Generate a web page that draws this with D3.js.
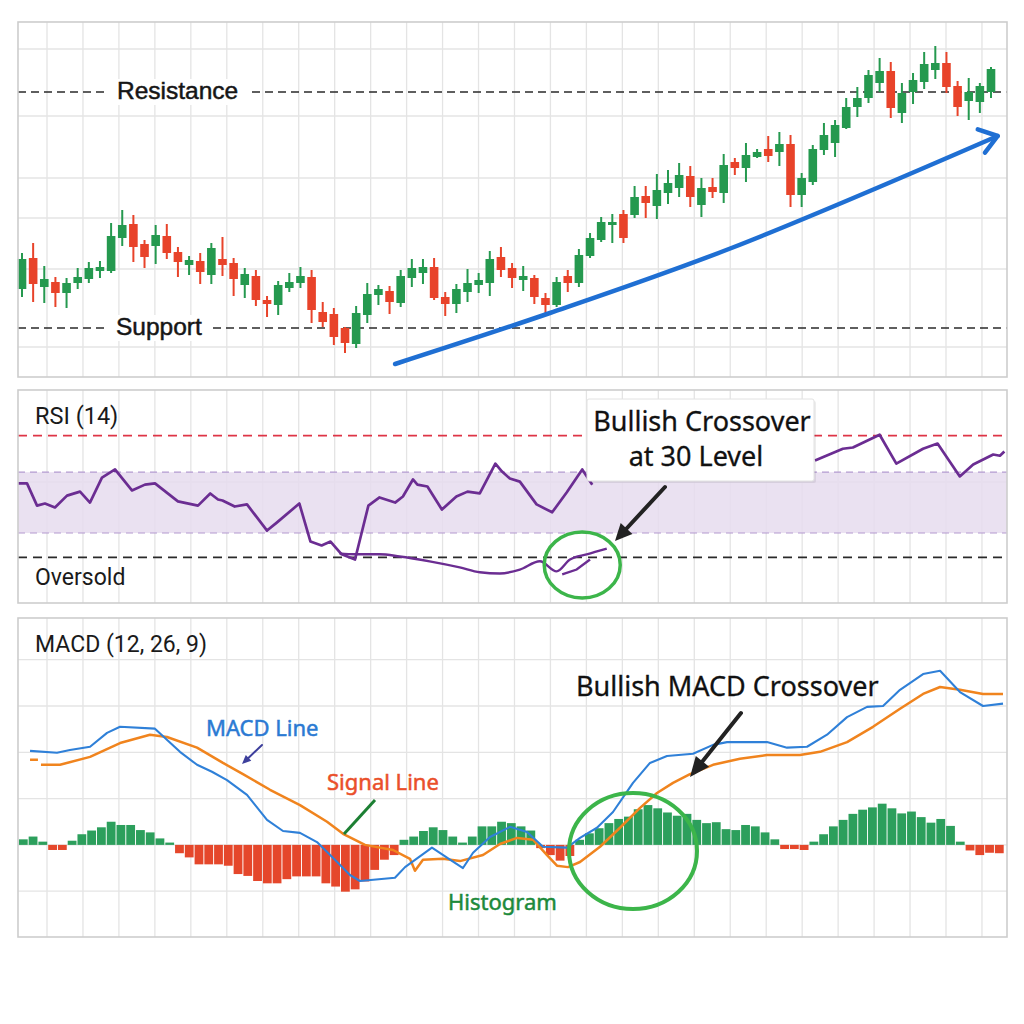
<!DOCTYPE html>
<html><head><meta charset="utf-8">
<script src="https://cdn.jsdelivr.net/npm/d3@7"></script>
<style>body{margin:0;background:#fff}svg{display:block}</style>
</head><body>
<svg id="c" width="1024" height="1024"></svg>
<script>
// ---------------- DATA ----------------
// Price candles (arbitrary price units)
const opens  = [111,142,113,118,107,117,121,129,129,162,176,156,154,164,148,135,139,125,141,137,115,124,100,95,112,117,123,88,86,72,56,85,105,109,97,122,127,133,103,96,108,115,117,143,132,120,122,102,95,124,117,144,160,175,186,185,204,194,207,212,224,195,213,207,238,232,243,251,248,256,205,218,250,257,272,293,302,317,329,287,308,318,330,337,314,299,298,308];
const highs  = [147,157,134,123,122,132,138,139,177,190,185,160,175,176,153,144,147,157,163,142,132,130,104,119,127,133,130,98,92,73,94,117,115,114,130,141,141,142,108,116,131,127,149,153,137,134,125,107,123,130,151,167,183,186,190,214,214,226,230,237,234,222,222,246,242,257,251,264,268,265,227,255,277,280,302,313,330,342,338,317,327,348,354,348,319,322,317,333];
const lows   = [103,98,97,93,92,111,117,122,127,154,138,132,136,141,123,125,116,116,124,104,102,94,83,85,108,112,77,73,55,47,52,77,95,86,93,113,116,100,84,87,98,107,104,123,112,109,96,86,93,108,113,142,158,157,157,182,182,181,196,203,193,183,202,197,225,218,242,238,234,193,193,215,245,243,271,283,297,308,282,277,296,311,321,307,284,280,287,302];
const closes = [141,116,121,107,117,123,132,133,164,175,153,143,165,147,138,140,128,152,135,121,126,100,96,115,118,124,90,78,63,57,87,106,111,98,124,132,133,102,96,111,117,120,141,130,122,124,103,95,118,117,145,162,178,178,162,203,197,210,217,225,203,212,208,235,232,245,248,244,256,205,222,251,265,275,293,302,325,329,292,307,320,336,337,313,293,308,314,331];
const resistanceLevel = 308;
const supportLevel = 72;
const priceGrid = [351,284,222,182,131,53];
// trend line (day, price)
const trendDay   = [33.5,47.4,63.7,87.6];
const trendPrice = [36,87,152,264];

// RSI (14)
const rsiDay   = [-0.36,0.45,1.35,2.06,2.96,4.04,5.21,6.10,7.18,8.35,9.87,11.04,11.94,14.0,15.8,16.9,17.6,18.0,19.1,20.2,22.0,22.9,24.9,25.9,26.9,27.7,28.7,29.9,31.1,32.1,33.5,34.2,35.1,35.5,36.4,37.7,39.0,40.0,41.1,42.5,43.1,43.8,44.7,46.2,47.6,48.9,50.3,51.2,null,71.2,73.7,74.6,77.0,78.5,80.9,82.2,84.2,85.4,87.2,87.8,88.2];
const rsiValue = [54.3,54.3,47.0,47.7,46.4,50.3,51.6,48.0,56.2,58.9,52.0,53.9,54.3,48.4,47.0,51.0,49.0,48.7,46.7,47.4,38.8,41.5,47.7,35.2,33.9,35.2,31.0,29.3,47.0,49.7,48.0,50.0,55.6,53.9,53.3,45.7,50.0,51.6,51.0,60.8,58.2,55.9,54.9,47.4,44.8,51.3,58.9,53.9,null,61.8,65.7,66.1,70.3,60.8,65.7,67.4,56.6,60.5,63.8,63.4,64.8];
const rsiAvgDay   = [28.5,29.9,32.1,33.9,36.6,39.3,41.1,42.9,44.7,46.5,48.0,49.2,50.7,52.5];
const rsiAvgValue = [31.3,31.0,31.0,30.3,28.7,26.7,25.1,24.7,26.0,28.7,25.4,29.3,31.0,32.9];
const rsiAltDay   = [48.5,49.8,51.0];
const rsiAltValue = [24.4,26.0,29.3];
const overbought = 70, oversold = 30, bandHigh = 58, bandLow = 38;

// MACD (12, 26, 9)
const histogram = [0.12,0.18,0.07,-0.11,-0.11,0.09,0.23,0.31,0.38,0.50,0.43,0.43,0.32,0.27,0.14,0.05,-0.18,-0.27,-0.42,-0.42,-0.42,-0.45,-0.63,-0.67,-0.78,-0.83,-0.83,-0.74,-0.68,-0.68,-0.68,-0.83,-0.90,-1.01,-0.96,-0.79,-0.54,-0.32,-0.22,0.11,0.18,0.30,0.38,0.32,0.18,0.05,0.18,0.40,0.40,0.50,0.47,0.40,0.31,-0.07,-0.22,-0.34,-0.24,0.11,0.25,0.36,0.47,0.56,0.61,0.77,0.86,0.79,0.70,0.63,0.67,0.54,0.47,0.49,0.34,0.32,0.43,0.40,0.27,0.12,-0.09,-0.09,-0.11,0.07,0.23,0.40,0.54,0.67,0.76,0.81,0.89,0.79,0.68,0.72,0.60,0.48,0.56,0.41,0.07,-0.12,-0.22,-0.17,-0.18];
const macdBar   = [0.69,3.45,4.78,6.84,8.58,9.91,13.49,16.05,17.80,19.33,20.87,22.92,24.97,26.61,28.35,30.09,31.93,33.47,34.49,38.08,39.11,41.87,43.72,45.05,46.08,47.82,49.87,51.61,53.25,55.71,57.04,58.78,60.42,62.47,64.21,65.95,68.62,70.67,72.10,76.20,78.25,80.30,82.35,84.40,86.45,88.09,89.83,92.19,93.93,95.97,98.33,100.38];
const macdValue = [2.03,1.99,2.05,2.12,2.42,2.55,2.51,2.01,1.73,1.58,1.40,1.08,0.54,0.30,0.26,0.06,-0.32,-0.65,-0.78,-0.71,-0.48,-0.06,-0.32,-0.50,-0.17,0.17,0.39,0.28,-0.04,-0.06,0.15,0.37,0.71,1.34,1.77,1.92,1.97,2.16,2.22,2.22,2.10,2.12,2.38,2.76,2.98,3.00,3.35,3.69,3.76,3.30,3.00,3.05];
const signalBar   = [0.69,1.5,null,1.81,3.76,6.84,9.91,12.98,14.72,17.80,20.46,22.51,25.28,28.35,31.12,32.76,35.01,37.88,39.62,40.13,40.95,43.0,44.74,47.10,48.84,50.59,52.25,53.66,54.68,55.81,57.04,59.09,61.14,63.19,64.93,66.57,68.31,70.67,73.43,76.20,79.58,81.63,84.40,87.06,89.83,92.19,93.93,95.97,98.33,100.38];
const signalValue = [1.84,1.84,null,1.73,1.73,1.90,2.20,2.38,2.33,2.10,1.77,1.53,1.19,0.86,0.50,0.24,0,-0.11,-0.30,-0.56,-0.32,-0.30,-0.35,-0.22,0.02,0.15,0.11,-0.22,-0.45,-0.48,-0.37,-0.04,0.37,0.80,1.12,1.34,1.53,1.73,1.86,1.94,1.94,2.01,2.22,2.55,2.94,3.26,3.41,3.35,3.26,3.26];

// ---------------- LAYOUT ----------------
const svg = d3.select('#c');
const X0 = 18, X1 = 1007;
const TOP = [22, 377], RSI = [390, 603], MACD = [618, 937];
const GREEN = '#25994f', RED = '#e8432a', GRID = '#e4e4e4', FRAME = '#cdcdcd';

const xDay = d3.scaleLinear().domain([0, 87]).range([22, 991]);
const yPrice = d3.scaleLinear().domain([23, 378]).range([377, 22]);
const yRsi = d3.scaleLinear().domain([15, 85]).range([603, 390]);
const xBar = d3.scaleLinear().domain([0, 100]).range([23.3, 999.3]);
const yMacd = d3.scaleLinear().domain([-2, 4.9]).range([937.5, 618]);

function panelGrid(range, hYs) {
  const g = svg.append('g');
  for (let x = 47; x < X1 - 5; x += 35.96)
    g.append('line').attr('x1', x).attr('x2', x).attr('y1', range[0]).attr('y2', range[1])
      .attr('stroke', GRID).attr('stroke-width', 1.3);
  hYs.forEach(y => g.append('line').attr('x1', X0).attr('x2', X1).attr('y1', y).attr('y2', y)
      .attr('stroke', GRID).attr('stroke-width', 1.3));
}
function frame(range) {
  svg.append('rect').attr('x', X0).attr('y', range[0]).attr('width', X1 - X0).attr('height', range[1] - range[0])
    .attr('fill', 'none').attr('stroke', FRAME).attr('stroke-width', 1.6);
}
function arrow(x1, y1, x2, y2, color, w, hl, hw) {
  const a = Math.atan2(y2 - y1, x2 - x1);
  const bx = x2 - hl * Math.cos(a), by = y2 - hl * Math.sin(a);
  svg.append('line').attr('x1', x1).attr('y1', y1).attr('x2', bx + 2 * Math.cos(a)).attr('y2', by + 2 * Math.sin(a))
    .attr('stroke', color).attr('stroke-width', w).attr('stroke-linecap', 'round');
  const px = -Math.sin(a) * hw / 2, py = Math.cos(a) * hw / 2;
  svg.append('path').attr('d', `M${x2},${y2}L${bx + px},${by + py}L${bx - px},${by - py}Z`).attr('fill', color);
}

// ---------- TOP PANEL ----------
panelGrid(TOP, priceGrid.map(yPrice));

function levelLine(price, label, x0, x1, tx) {
  const y = yPrice(price);
  svg.append('line').attr('x1', X0).attr('x2', X1).attr('y1', y).attr('y2', y)
    .attr('stroke', '#2a2a2a').attr('stroke-width', 1.5).attr('stroke-dasharray', '8,5');
  svg.append('rect').attr('x', x0).attr('y', y - 13).attr('width', x1 - x0).attr('height', 26).attr('fill', '#fff');
  svg.append('text').attr('x', tx).attr('y', y + 7).text(label)
    .attr('font-family', 'Liberation Sans, Arial, sans-serif').attr('font-size', 24.5)
    .attr('fill', '#161616').attr('stroke', '#161616').attr('stroke-width', 0.5);
}
levelLine(resistanceLevel, 'Resistance', 108, 249, 117);
levelLine(supportLevel, 'Support', 108, 213, 116);

const cg = svg.append('g');
opens.forEach((o, i) => {
  const c = closes[i], up = c >= o, col = up ? GREEN : RED, x = xDay(i);
  cg.append('line').attr('x1', x).attr('x2', x).attr('y1', yPrice(highs[i])).attr('y2', yPrice(lows[i]))
    .attr('stroke', col).attr('stroke-width', 2);
  const yt = yPrice(Math.max(o, c)), yb = yPrice(Math.min(o, c));
  cg.append('rect').attr('x', x - 4.3).attr('width', 8.6).attr('y', yt).attr('height', Math.max(2, yb - yt))
    .attr('fill', col);
});

// trend arrow
const trendPts = trendDay.map((d, i) => [xDay(d), yPrice(trendPrice[i])]);
svg.append('path').attr('d', d3.line().curve(d3.curveCatmullRom)(trendPts))
  .attr('fill', 'none').attr('stroke', '#1f6fd3').attr('stroke-width', 4.5).attr('stroke-linecap', 'round');
{
  const [ex, ey] = trendPts[3];
  const a = Math.atan2(ey - yPrice(255), ex - xDay(85));
  const L = 21, sp = 0.62;
  const p1 = [ex - L * Math.cos(a - sp), ey - L * Math.sin(a - sp)];
  const p2 = [ex - L * Math.cos(a + sp), ey - L * Math.sin(a + sp)];
  svg.append('path').attr('d', `M${p1}L${ex},${ey}L${p2}`).attr('fill', 'none')
    .attr('stroke', '#1f6fd3').attr('stroke-width', 4.5).attr('stroke-linecap', 'round').attr('stroke-linejoin', 'round');
}
frame(TOP);

// ---------- RSI PANEL ----------
panelGrid(RSI, [482]);
svg.append('rect').attr('x', X0).attr('width', X1 - X0).attr('y', yRsi(bandHigh)).attr('height', yRsi(bandLow) - yRsi(bandHigh))
  .attr('fill', '#e6dcef').attr('opacity', 0.85);
[bandHigh, bandLow].forEach(v => svg.append('line').attr('x1', X0).attr('x2', X1).attr('y1', yRsi(v)).attr('y2', yRsi(v))
  .attr('stroke', '#b39ad0').attr('stroke-width', 1.2).attr('stroke-dasharray', '7,5'));
svg.append('line').attr('x1', X0).attr('x2', X1).attr('y1', yRsi(overbought)).attr('y2', yRsi(overbought))
  .attr('stroke', '#de3446').attr('stroke-width', 1.7).attr('stroke-dasharray', '9,6');
svg.append('line').attr('x1', X0).attr('x2', X1).attr('y1', yRsi(oversold)).attr('y2', yRsi(oversold))
  .attr('stroke', '#2a2a2a').attr('stroke-width', 1.7).attr('stroke-dasharray', '9,6');

const rsiLine = d3.line().defined(d => d[0] !== null).x(d => xDay(d[0])).y(d => yRsi(d[1]));
const PURPLE = '#6b2d92';
svg.append('path').attr('d', rsiLine(rsiDay.map((d, i) => [d, rsiValue[i]])))
  .attr('fill', 'none').attr('stroke', PURPLE).attr('stroke-width', 2.7).attr('stroke-linejoin', 'round');
svg.append('path').attr('d', d3.line().curve(d3.curveMonotoneX).x(d => xDay(d[0])).y(d => yRsi(d[1]))(rsiAvgDay.map((d, i) => [d, rsiAvgValue[i]])))
  .attr('fill', 'none').attr('stroke', PURPLE).attr('stroke-width', 2.4);
svg.append('path').attr('d', rsiLine(rsiAltDay.map((d, i) => [d, rsiAltValue[i]])))
  .attr('fill', 'none').attr('stroke', PURPLE).attr('stroke-width', 2.4);

const titleFont = 'Roboto, sans-serif';
svg.append('text').attr('x', 35).attr('y', 424).text('RSI (14)').attr('font-family', titleFont).attr('font-size', 23.5).attr('fill', '#1a1a1a');
svg.append('text').attr('x', 35).attr('y', 585).text('Oversold').attr('font-family', titleFont).attr('font-size', 23).attr('fill', '#1a1a1a');

// callout
svg.append('rect').attr('x', 589).attr('y', 401).attr('width', 227).attr('height', 82).attr('rx', 2)
  .attr('fill', '#000').attr('opacity', 0.07);
svg.append('rect').attr('x', 587).attr('y', 399).attr('width', 227).attr('height', 82).attr('rx', 2)
  .attr('fill', '#fff').attr('stroke', '#e2e2e2');
const callFont = 'Noto Sans, Open Sans, sans-serif';
svg.append('text').attr('x', 702).attr('y', 431).attr('text-anchor', 'middle').text('Bullish Crossover')
  .attr('font-family', callFont).attr('font-size', 27).attr('fill', '#111').attr('stroke', '#111').attr('stroke-width', 0.3);
svg.append('text').attr('x', 696).attr('y', 466).attr('text-anchor', 'middle').text('at 30 Level')
  .attr('font-family', callFont).attr('font-size', 27).attr('fill', '#111').attr('stroke', '#111').attr('stroke-width', 0.3);
arrow(665, 487, 615, 541, '#222', 4, 17, 16);
svg.append('ellipse').attr('cx', xDay(50.3)).attr('cy', yRsi(27.5)).attr('rx', 38).attr('ry', 33)
  .attr('fill', 'none').attr('stroke', '#3cb54a').attr('stroke-width', 3.5);
frame(RSI);

// ---------- MACD PANEL ----------
panelGrid(MACD, [-1, 0, 1, 2, 3, 4].map(yMacd));
const bw = 8.8;
svg.append('g').selectAll('rect').data(histogram).join('rect')
  .attr('x', (d, i) => xBar(i) - bw / 2).attr('width', bw)
  .attr('y', d => yMacd(Math.max(0, d))).attr('height', d => Math.abs(yMacd(d) - yMacd(0)))
  .attr('fill', d => d >= 0 ? '#2c9f5c' : '#e5472b');

const macdPath = d3.line().defined(d => d[0] !== null).x(d => xBar(d[0])).y(d => yMacd(d[1]));
svg.append('path').attr('d', macdPath(signalBar.map((d, i) => [d, signalValue[i]])))
  .attr('fill', 'none').attr('stroke', '#f0841e').attr('stroke-width', 2.5).attr('stroke-linejoin', 'round');
svg.append('path').attr('d', macdPath(macdBar.map((d, i) => [d, macdValue[i]])))
  .attr('fill', 'none').attr('stroke', '#2f80d8').attr('stroke-width', 2.1).attr('stroke-linejoin', 'round');

svg.append('text').attr('x', 35).attr('y', 652).text('MACD (12, 26, 9)').attr('font-family', titleFont).attr('font-size', 23).attr('fill', '#1a1a1a');
const labFont = 'Noto Sans, Open Sans, sans-serif';
svg.append('text').attr('x', 206).attr('y', 736).text('MACD Line').attr('font-family', labFont).attr('font-size', 22).attr('fill', '#2b7ad3').attr('stroke', '#2b7ad3').attr('stroke-width', 0.5);
arrow(262, 745, 242, 764, '#3d3f9c', 2, 9, 8);
svg.append('text').attr('x', 327).attr('y', 790).text('Signal Line').attr('font-family', labFont).attr('font-size', 22).attr('fill', '#ea4f2a').attr('stroke', '#ea4f2a').attr('stroke-width', 0.5);
svg.append('line').attr('x1', 375).attr('y1', 800).attr('x2', 344).attr('y2', 834).attr('stroke', '#1c7f33').attr('stroke-width', 3);
svg.append('text').attr('x', 448).attr('y', 910).text('Histogram').attr('font-family', labFont).attr('font-size', 22).attr('fill', '#1d8a3b').attr('stroke', '#1d8a3b').attr('stroke-width', 0.5);
svg.append('text').attr('x', 576).attr('y', 696).text('Bullish MACD Crossover').attr('font-family', callFont).attr('font-size', 27).attr('fill', '#111').attr('stroke', '#111').attr('stroke-width', 0.3);
arrow(741, 713, 690, 777, '#222', 4, 20, 17);
svg.append('ellipse').attr('cx', 633).attr('cy', 851).attr('rx', 64).attr('ry', 58)
  .attr('fill', 'none').attr('stroke', '#3cb54a').attr('stroke-width', 4);
frame(MACD);
</script>
</body></html>
